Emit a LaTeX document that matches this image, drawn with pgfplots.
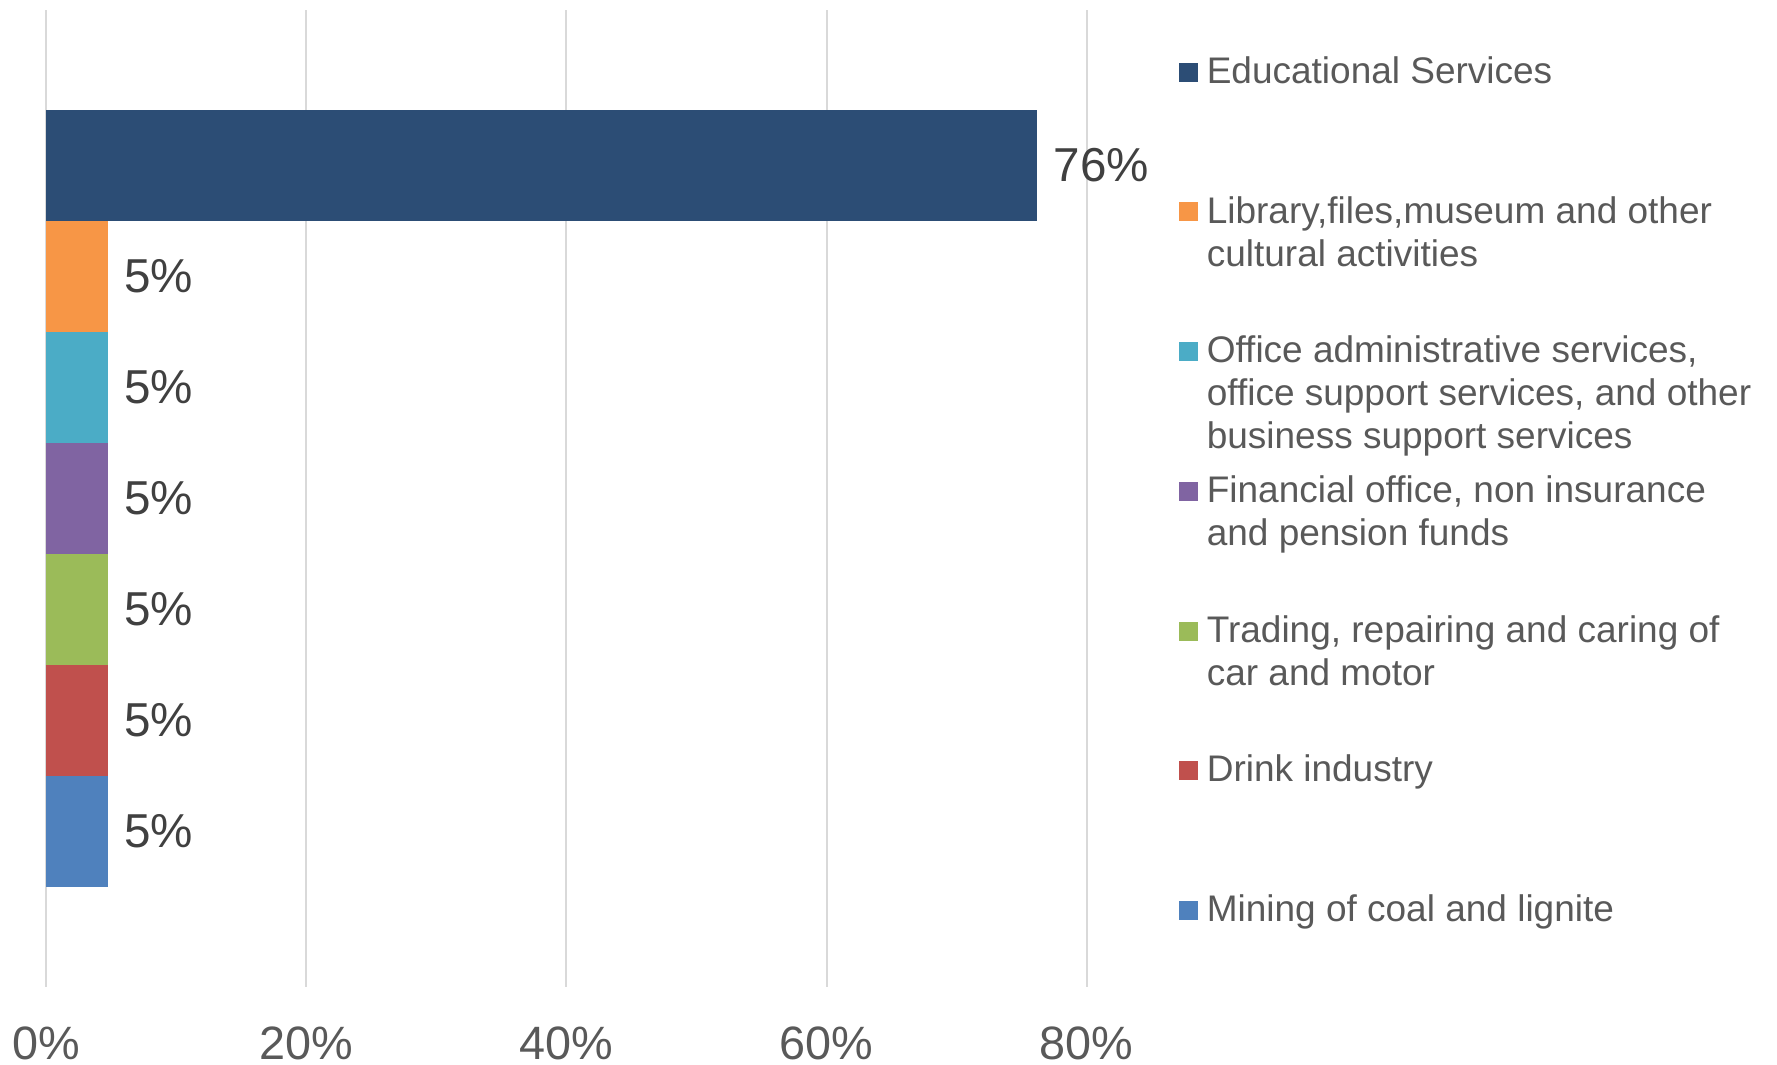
\documentclass[border=0pt]{standalone}
\usepackage{fontspec}
\setmainfont{Liberation Sans}
\usepackage{pgfplots}
\pgfplotsset{compat=1.18}
\definecolor{cEdu}{HTML}{2C4D75}
\definecolor{cLib}{HTML}{F79646}
\definecolor{cOff}{HTML}{4BACC6}
\definecolor{cFin}{HTML}{8064A2}
\definecolor{cTra}{HTML}{9BBB59}
\definecolor{cDri}{HTML}{C0504D}
\definecolor{cMin}{HTML}{4F81BD}
\definecolor{tickgray}{HTML}{595959}
\definecolor{labelgray}{HTML}{404040}
\definecolor{gridgray}{HTML}{D9D9D9}
\newcommand\legsq[2]{\fill[#1] (294.75pt,#2pt+0.4pt) rectangle (299.5pt,#2pt+5.15pt);}
\newcommand\legline[2]{\node[anchor=base west, inner sep=0pt, font=\fontsize{9.25}{10.75}\selectfont, text=tickgray] at (301.5pt,#1pt) {#2};}
\begin{document}
\begin{tikzpicture}
\path[use as bounding box] (0,0) rectangle (444.25pt,266pt);
\begin{axis}[
  at={(11.5pt,19.325pt)}, anchor=south west,
  scale only axis, width=260.2pt, height=244.25pt,
  xmin=0, xmax=80, ymin=-0.4, ymax=8.4,
  xtick={0,20,40,60,80},
  xticklabels={0\%,20\%,40\%,60\%,80\%},
  xticklabel style={anchor=center, yshift=-14.1pt, font=\fontsize{11.7}{13}\selectfont, text=tickgray},
  ytick=\empty,
  xmajorgrids,
  major grid style={draw=gridgray, line width=0.5pt},
  axis line style={draw=none},
  major tick length=0pt,
  xbar, bar width=1, bar shift=0,
  clip=false,
  point meta=x,
  nodes near coords={\pgfmathprintnumber[fixed,precision=0,assume math mode=true]{\pgfplotspointmeta}\%},
  nodes near coords style={anchor=west, inner sep=0pt, xshift=3.9pt, font=\fontsize{11.9}{13}\selectfont, text=labelgray},
]
\addplot[fill=cEdu, draw=none] coordinates {(76.19,7)};
\addplot[fill=cLib, draw=none] coordinates {(4.76,6)};
\addplot[fill=cOff, draw=none] coordinates {(4.76,5)};
\addplot[fill=cFin, draw=none] coordinates {(4.76,4)};
\addplot[fill=cTra, draw=none] coordinates {(4.76,3)};
\addplot[fill=cDri, draw=none] coordinates {(4.76,2)};
\addplot[fill=cMin, draw=none] coordinates {(4.76,1)};
\end{axis}
% legend
\legsq{cEdu}{245.175}
\legline{245.175}{Educational Services}
\legsq{cLib}{210.25}
\legline{210.25}{Library,files,museum and other}
\legline{199.5}{cultural activities}
\legsq{cOff}{175.325}
\legline{175.325}{Office administrative services,}
\legline{164.575}{office support services, and other}
\legline{153.825}{business support services}
\legsq{cFin}{140.4}
\legline{140.4}{Financial office, non insurance}
\legline{129.65}{and pension funds}
\legsq{cTra}{105.475}
\legline{105.475}{Trading, repairing and caring of}
\legline{94.725}{car and motor}
\legsq{cDri}{70.55}
\legline{70.55}{Drink industry}
\legsq{cMin}{35.625}
\legline{35.625}{Mining of coal and lignite}
\end{tikzpicture}
\end{document}
